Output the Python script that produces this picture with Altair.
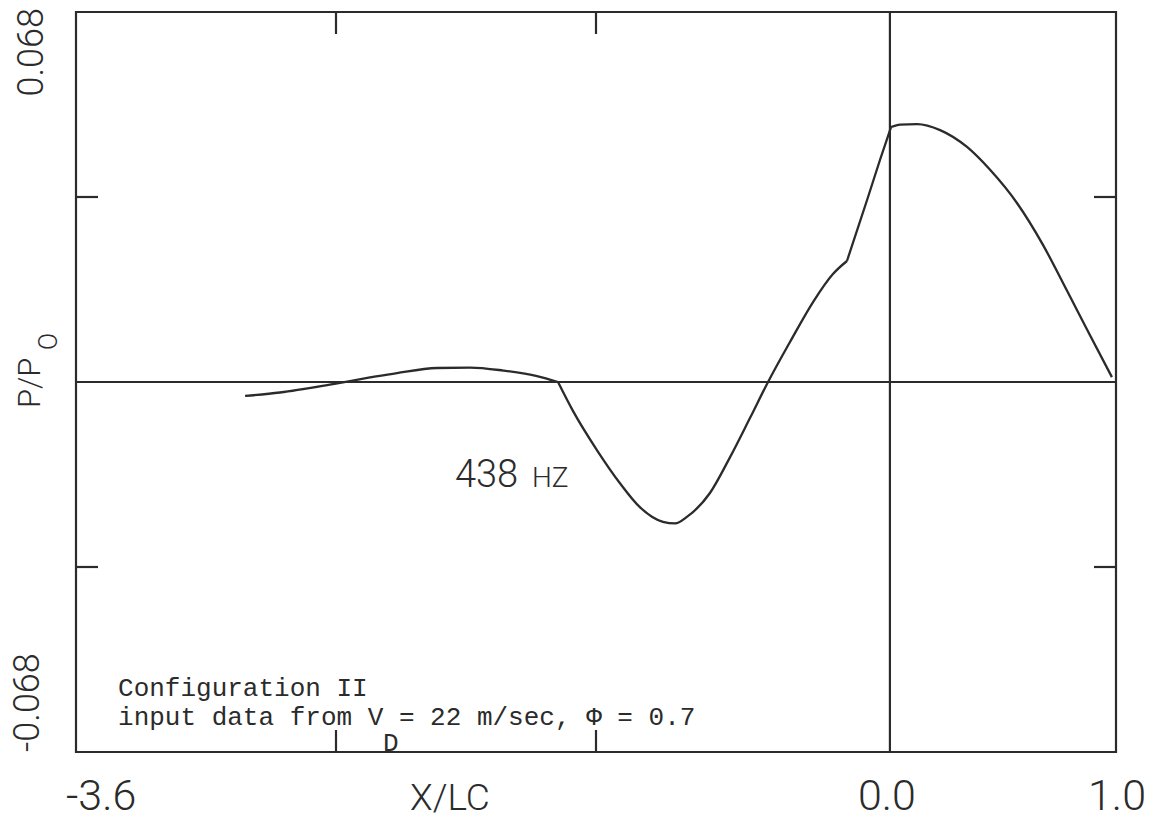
import altair as alt
import pandas as pd

# ---- data (curve split where the plotted line has corners) ----
x_lc = [-2.852, -2.698, -2.463, -2.300, -2.180, -2.003, -1.857, -1.711, -1.561, -1.468,
        -1.468, -1.402, -1.296, -1.194, -1.106, -1.004, -0.950, -0.898, -0.796, -0.707,
        -0.619, -0.539, -0.442, -0.340, -0.252, -0.190,
        -0.190, -0.101, -0.044, 0.005,
        0.005, 0.045, 0.120, 0.222, 0.341, 0.443, 0.562, 0.677, 0.783, 0.885, 0.982]
p_p0 = [-0.00257, -0.00193, -0.00037, 0.00083, 0.00165, 0.00257, 0.00266, 0.00211, 0.00110, 0.0,
        0.0, -0.0053, -0.0125, -0.0186, -0.0230, -0.0257, -0.0260, -0.0248, -0.0204, -0.0138,
        -0.00662, 0.0, 0.00735, 0.01470, 0.01985, 0.02224,
        0.02224, 0.03345, 0.0408, 0.04686,
        0.04686, 0.0473, 0.0474, 0.0463, 0.0432, 0.0390, 0.0329, 0.0252, 0.0168, 0.0086, 0.0009]
segment = ["a"] * 10 + ["b"] * 16 + ["c"] * 4 + ["d"] * 11

x_ticks = [-2.45, -1.3]
y_ticks = [0.034, -0.034]
x_label_vals = [-3.6, 0.0, 1.0]
x_label_text = ["-3.6", "0.0", "1.0"]
x_label_align = ["left", "center", "center"]
x_label_dx = [-10, -3, 1]
y_label_vals = [0.068, -0.068]
y_label_text = ["0.068", "-0.068"]

W, H = 1040, 740
INK = "#2b2b2b"
SANS = "Roboto, Liberation Sans, sans-serif"
LIGHT = 300
MONO = "Liberation Mono"

xs = alt.Scale(domain=[-3.6, 1.0], nice=False, zero=False)
ys = alt.Scale(domain=[-0.068, 0.068], nice=False, zero=False)

curve_df = pd.DataFrame({"x": x_lc, "y": p_p0, "seg": segment})
curve = alt.Chart(curve_df).mark_line(
    color=INK, strokeWidth=2.3, interpolate="monotone"
).encode(
    x=alt.X("x:Q", scale=xs, axis=None),
    y=alt.Y("y:Q", scale=ys, axis=None),
    detail="seg:N",
)

zero_h = alt.Chart(pd.DataFrame({"y": [0.0]})).mark_rule(color=INK, strokeWidth=2.2).encode(
    y=alt.Y("y:Q", scale=ys, axis=None)
)
zero_v = alt.Chart(pd.DataFrame({"x": [0.0]})).mark_rule(color=INK, strokeWidth=2.2).encode(
    x=alt.X("x:Q", scale=xs, axis=None)
)

xt_df = pd.DataFrame({"x": x_ticks})
yt_df = pd.DataFrame({"y": y_ticks})
tick_top = alt.Chart(xt_df).mark_rule(color=INK, strokeWidth=2.2).encode(
    x=alt.X("x:Q", scale=xs, axis=None), y=alt.value(0), y2=alt.value(22))
tick_bot = alt.Chart(xt_df).mark_rule(color=INK, strokeWidth=2.2).encode(
    x=alt.X("x:Q", scale=xs, axis=None), y=alt.value(H), y2=alt.value(H - 22))
tick_left = alt.Chart(yt_df).mark_rule(color=INK, strokeWidth=2.2).encode(
    y=alt.Y("y:Q", scale=ys, axis=None), x=alt.value(0), x2=alt.value(22))
tick_right = alt.Chart(yt_df).mark_rule(color=INK, strokeWidth=2.2).encode(
    y=alt.Y("y:Q", scale=ys, axis=None), x=alt.value(W), x2=alt.value(W - 22))

layers = [zero_h, zero_v, tick_top, tick_bot, tick_left, tick_right, curve]

# x tick labels
for v, t, a, d in zip(x_label_vals, x_label_text, x_label_align, x_label_dx):
    layers.append(
        alt.Chart(pd.DataFrame({"t": [t]})).mark_text(
            font=SANS, fontWeight=LIGHT, fontSize=43, color=INK, align=a,
            baseline="alphabetic", dx=d
        ).encode(x=alt.X(datum=v, scale=xs, axis=None), y=alt.value(798), text="t:N")
    )

# x axis title
layers.append(
    alt.Chart(pd.DataFrame({"t": ["X/LC"]})).mark_text(
        font=SANS, fontWeight=LIGHT, fontSize=37, color=INK, align="center",
        baseline="alphabetic"
    ).encode(x=alt.X(datum=-1.946, scale=xs, axis=None), y=alt.value(798), text="t:N")
)

# y tick labels (rotated)
layers.append(
    alt.Chart(pd.DataFrame({"t": [y_label_text[0]]})).mark_text(
        font=SANS, fontWeight=LIGHT, fontSize=36, color=INK, angle=270, align="right",
        baseline="alphabetic", dx=4
    ).encode(y=alt.Y(datum=y_label_vals[0], scale=ys, axis=None), x=alt.value(-33), text="t:N")
)
layers.append(
    alt.Chart(pd.DataFrame({"t": [y_label_text[1]]})).mark_text(
        font=SANS, fontWeight=LIGHT, fontSize=36, color=INK, angle=270, align="left",
        baseline="alphabetic", dx=0
    ).encode(y=alt.Y(datum=y_label_vals[1], scale=ys, axis=None), x=alt.value(-37), text="t:N")
)

# y axis title P/P_O
layers.append(
    alt.Chart(pd.DataFrame({"t": ["P/P"]})).mark_text(
        font=SANS, fontWeight=LIGHT, fontSize=31, color=INK, angle=270, align="left",
        baseline="alphabetic"
    ).encode(y=alt.Y(datum=-0.0048, scale=ys, axis=None), x=alt.value(-36), text="t:N")
)
layers.append(
    alt.Chart(pd.DataFrame({"t": ["O"]})).mark_text(
        font=SANS, fontWeight=LIGHT, fontSize=25, color=INK, angle=270, align="left",
        baseline="alphabetic"
    ).encode(y=alt.Y(datum=0.0059, scale=ys, axis=None), x=alt.value(-19), text="t:N")
)

# frequency annotation
layers.append(
    alt.Chart(pd.DataFrame({"t": ["438"]})).mark_text(
        font=SANS, fontWeight=LIGHT, fontSize=38, color=INK, align="left",
        baseline="alphabetic"
    ).encode(x=alt.X(datum=-1.924, scale=xs, axis=None),
             y=alt.Y(datum=-0.0193, scale=ys, axis=None), text="t:N")
)
layers.append(
    alt.Chart(pd.DataFrame({"t": ["HZ"]})).mark_text(
        font=SANS, fontWeight=LIGHT, fontSize=28, color=INK, align="left",
        baseline="alphabetic"
    ).encode(x=alt.X(datum=-1.583, scale=xs, axis=None),
             y=alt.Y(datum=-0.0193, scale=ys, axis=None), text="t:N")
)

# configuration note
note_lines = ["Configuration II", "input data from V = 22 m/sec, \u03a6 = 0.7"]
note_y = [684, 713]
for t, yy in zip(note_lines, note_y):
    layers.append(
        alt.Chart(pd.DataFrame({"t": [t]})).mark_text(
            font=MONO, fontSize=26, color=INK, align="left", baseline="alphabetic"
        ).encode(x=alt.X(datum=-3.414, scale=xs, axis=None), y=alt.value(yy), text="t:N")
    )
layers.append(
    alt.Chart(pd.DataFrame({"t": ["D"]})).mark_text(
        font=MONO, fontSize=26, color=INK, align="left", baseline="alphabetic"
    ).encode(x=alt.X(datum=-2.242, scale=xs, axis=None), y=alt.value(739), text="t:N")
)

chart = alt.layer(*layers).properties(
    width=W, height=H,
    autosize=alt.AutoSizeParams(type="none"),
    padding={"left": 76, "top": 12, "right": 49, "bottom": 70},
    background="white",
).configure_view(stroke=INK, strokeWidth=2.2)

chart.save("out.html", embed_options={"renderer": "svg", "actions": False})
